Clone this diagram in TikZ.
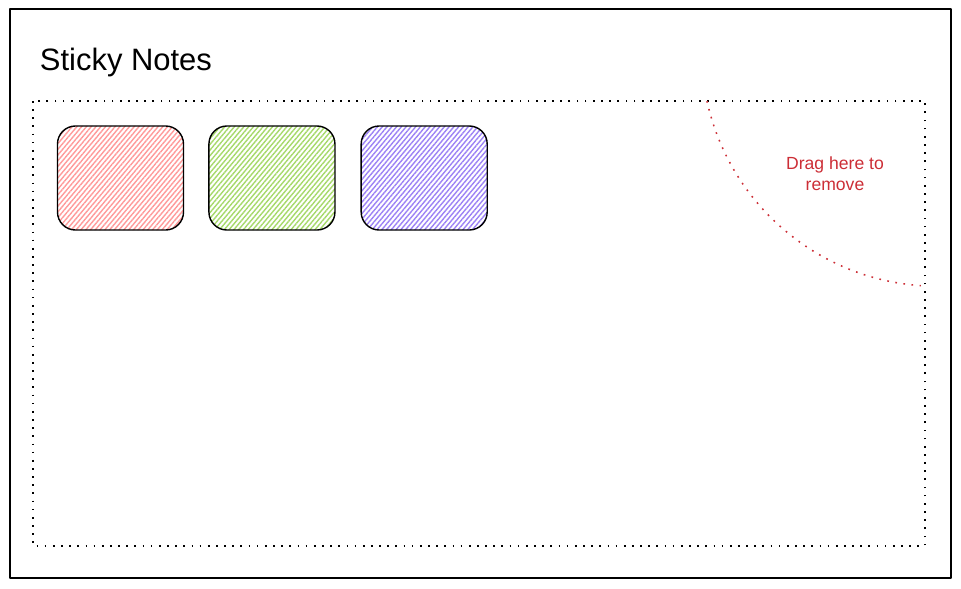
\documentclass[tikz,border=0pt]{standalone}
\usepackage{fontspec}
\setmainfont{Liberation Sans}
\usepackage{xcolor}
\usetikzlibrary{patterns.meta,positioning}
\definecolor{notered}{HTML}{FF9A9A}
\definecolor{notegreen}{HTML}{A6D96A}
\definecolor{notepurple}{HTML}{9C82F5}
\definecolor{dropred}{HTML}{CC2E36}

\begin{document}
\begin{tikzpicture}[x=0.025cm, y=-0.025cm, line join=round,
  note/.style={draw, line width=1pt, rounded corners=0.45cm, minimum width=3.15cm, minimum height=2.6cm, inner sep=0pt},
  hatch/.style={pattern={Lines[angle=50,distance=2.6pt,line width=1pt]}, pattern color=#1},
  board/.style={line width=1.1pt, dash pattern=on 1.2pt off 4.6pt}]
  \useasboundingbox (0,0) rectangle (961,588);
  \coordinate (F1) at (10,9);
  \coordinate (F2) at (951,578);
  \coordinate (B1) at (33,101);
  \coordinate (B2) at (925,546);
  \coordinate (C0) at (707,101);
  \draw[line width=1pt] (F1) rectangle (F2);
  \draw[board] (B1) rectangle (B2);
  \node[anchor=west, font=\fontsize{22}{26}\selectfont] (title) at (35,62) {Sticky Notes};
  \node[note, hatch=notered] (red) at (120.5,178) {};
  \node[note, hatch=notegreen, right=0.6cm of red] (green) {};
  \node[note, hatch=notepurple, right=0.62cm of green] (purple) {};
  \draw[board, dropred] (C0) arc[start angle=167.7, end angle=93.9, radius=235.3];
  \node[dropred, align=center, font=\fontsize{12.5}{15}\selectfont] (drop) at (835,174) {Drag here to\\remove};
\end{tikzpicture}
\end{document}
